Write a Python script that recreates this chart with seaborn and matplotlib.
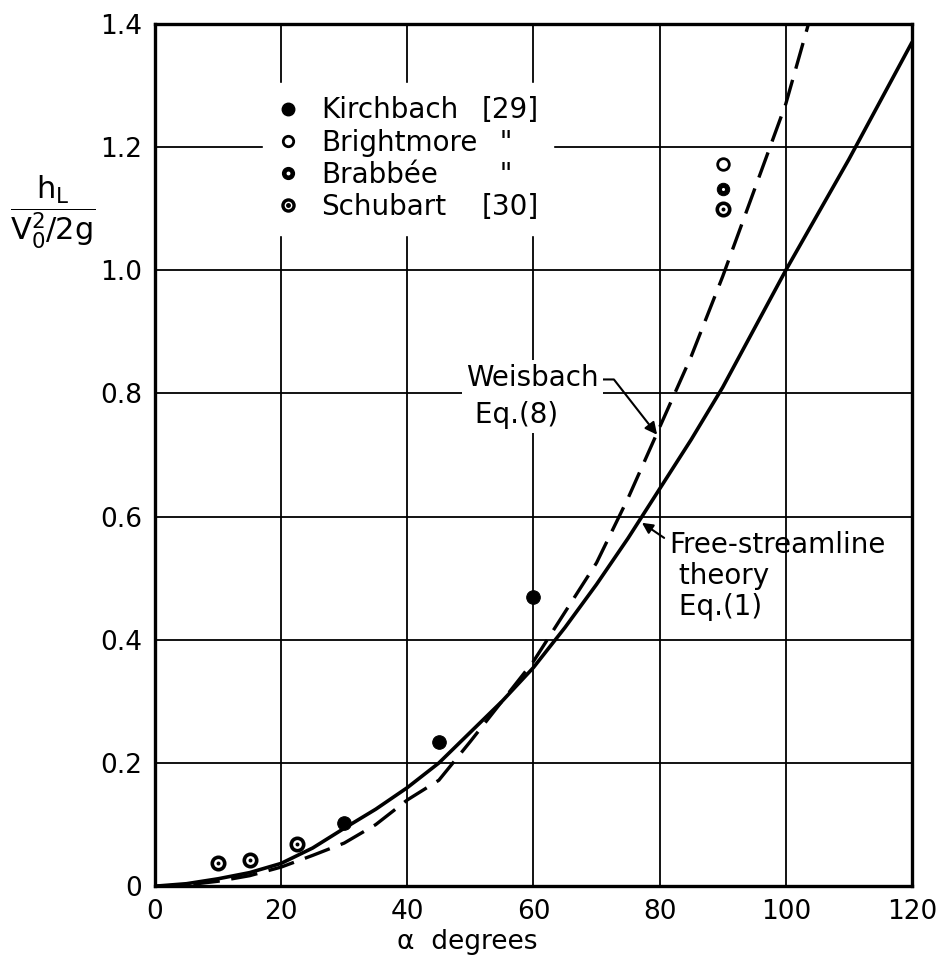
import matplotlib
matplotlib.use("Agg")
import matplotlib.pyplot as plt
from matplotlib.lines import Line2D
from matplotlib.legend_handler import HandlerTuple
import seaborn as sns
import pandas as pd

kirch_x = [30, 45, 60]
kirch_y = [0.102, 0.234, 0.47]
bright_x = [90]
bright_y = [1.173]
brab_x = [90]
brab_y = [1.132]
schub_x = [10, 15, 22.5, 90]
schub_y = [0.037, 0.042, 0.068, 1.10]

# curves
free_x = [0, 5, 10, 15, 20, 25, 30, 35, 40, 45, 50, 55, 60, 65, 70, 75, 80, 85, 90, 95, 100, 105, 110, 115, 120]
free_y = [0, 0.004, 0.012, 0.022, 0.037, 0.062, 0.094, 0.125, 0.16, 0.2, 0.25, 0.30, 0.355, 0.42, 0.49,
          0.565, 0.645, 0.725, 0.81, 0.905, 1.0, 1.09, 1.18, 1.275, 1.37]
weis_x = [0, 5, 10, 15, 20, 25, 30, 35, 40, 45, 50, 55, 60, 65, 70, 75, 80, 85, 90, 95, 100, 103.6]
weis_y = [0, 0.002, 0.008, 0.017, 0.031, 0.05, 0.07, 0.10, 0.14, 0.172, 0.235, 0.30, 0.365, 0.445, 0.525,
          0.63, 0.745, 0.86, 0.99, 1.13, 1.27, 1.4]

legend_names = ["Kirchbach", "Brightmore", "Brabbée", "Schubart"]
legend_refs = ["[29]", '  "', '  "', "[30]"]
xticks = [0, 20, 40, 60, 80, 100, 120]
xticklabels = ["0", "20", "40", "60", "80", "100", "120"]
yticks = [0, 0.2, 0.4, 0.6, 0.8, 1.0, 1.2, 1.4]
yticklabels = ["0", "0.2", "0.4", "0.6", "0.8", "1.0", "1.2", "1.4"]

sns.set_style("white")
plt.rcParams["font.family"] = ["DejaVu Sans"]
plt.rcParams["text.color"] = "black"
plt.rcParams["axes.labelcolor"] = "black"
fs = 20

fig = plt.figure(figsize=(9.45, 9.57), dpi=100)
ax = fig.add_axes([0.164, 0.074, 0.801, 0.901])

free = pd.DataFrame({"a": free_x, "h": free_y})
weis = pd.DataFrame({"a": weis_x, "h": weis_y})
sns.lineplot(data=free, x="a", y="h", ax=ax, color="black", lw=2.6, zorder=3)
sns.lineplot(data=weis, x="a", y="h", ax=ax, color="black", lw=2.4, zorder=3,
             dashes=False, linestyle=(0, (8, 3.5)))

# Kirchbach: solid dots
sns.scatterplot(x=kirch_x, y=kirch_y, ax=ax, s=95, color="black", edgecolor="black", zorder=4)
# Brightmore: open circles
sns.scatterplot(x=bright_x, y=bright_y, ax=ax, s=70, color="white", edgecolor="black", linewidth=2, zorder=4)
# Brabbee: heavy circle with a tiny light centre
sns.scatterplot(x=brab_x, y=brab_y, ax=ax, s=80, color="black", edgecolor="black", zorder=4)
sns.scatterplot(x=brab_x, y=brab_y, ax=ax, s=5, color="white", linewidth=0, zorder=5)
# Schubart: ring with centre dot
sns.scatterplot(x=schub_x, y=schub_y, ax=ax, s=80, color="white", edgecolor="black", linewidth=2.6, zorder=4)
sns.scatterplot(x=schub_x, y=schub_y, ax=ax, s=8, color="black", linewidth=0, zorder=5)

ax.set_xlim(0, 120)
ax.set_ylim(0, 1.4)
ax.set_xticks(xticks)
ax.set_xticklabels(xticklabels, fontsize=19)
ax.set_yticks(yticks)
ax.set_yticklabels(yticklabels, fontsize=19)
ax.tick_params(length=0, pad=9, colors="black")
ax.grid(True, color="black", lw=1.3)
for sp in ax.spines.values():
    sp.set_color("black")
    sp.set_linewidth(2.4)

ax.set_xlabel("\u03b1  degrees", fontsize=19, labelpad=6)
ax.xaxis.set_label_coords(0.413, -0.05)
ax.set_ylabel(r"$\dfrac{\mathregular{h_L}}{\mathregular{V_0^2/2g}}$", fontsize=22, rotation=0,
              va="center", ha="center")
ax.yaxis.set_label_coords(-0.135, 0.782)

# legend (names and references side by side, white box over the grid)
blank = Line2D([], [], ls="", marker="")
h_k = Line2D([], [], ls="", marker="o", ms=9, mfc="black", mec="black")
h_b = Line2D([], [], ls="", marker="o", ms=7.5, mfc="white", mec="black", mew=2)
h_r = (Line2D([], [], ls="", marker="o", ms=8.5, mfc="black", mec="black"),
       Line2D([], [], ls="", marker="o", ms=1.8, mfc="white", mec="white"))
h_s = (Line2D([], [], ls="", marker="o", ms=8, mfc="white", mec="black", mew=2.4),
       Line2D([], [], ls="", marker="o", ms=2.5, mfc="black", mec="black"))
leg = ax.legend([h_k, h_b, h_r, h_s] + [blank] * 4, legend_names + legend_refs,
                handler_map={tuple: HandlerTuple(ndivide=1, pad=0)}, ncol=2,
                loc="upper left", bbox_to_anchor=(0.143, 0.932), borderaxespad=0,
                frameon=True, fancybox=False,
                facecolor="white", edgecolor="white", framealpha=1, fontsize=fs,
                handlelength=0.8, handletextpad=0.8, labelspacing=0.15, borderpad=0.5,
                columnspacing=-1.45)

# annotations
ax.annotate("Weisbach\n Eq.(8)", xy=(79.6, 0.733), xytext=(49.3, 0.848), fontsize=fs, va="top", ha="left",
            linespacing=1.4, bbox=dict(boxstyle="square,pad=0.15", fc="white", ec="none"),
            arrowprops=dict(arrowstyle="-|>", color="black", lw=1.5, relpos=(1, 0.76),
                            connectionstyle="angle,angleA=0,angleB=-52,rad=0", shrinkA=0, shrinkB=0,
                            mutation_scale=18))
ax.annotate("Free-streamline\n theory\n Eq.(1)", xy=(77.2, 0.59), xytext=(81.6, 0.577), fontsize=fs,
            va="top", ha="left", linespacing=1.15,
            arrowprops=dict(arrowstyle="-|>", color="black", lw=1.5, relpos=(0, 0.88),
                            shrinkA=2, shrinkB=0, mutation_scale=16))

fig.savefig("out.png", dpi=100)
